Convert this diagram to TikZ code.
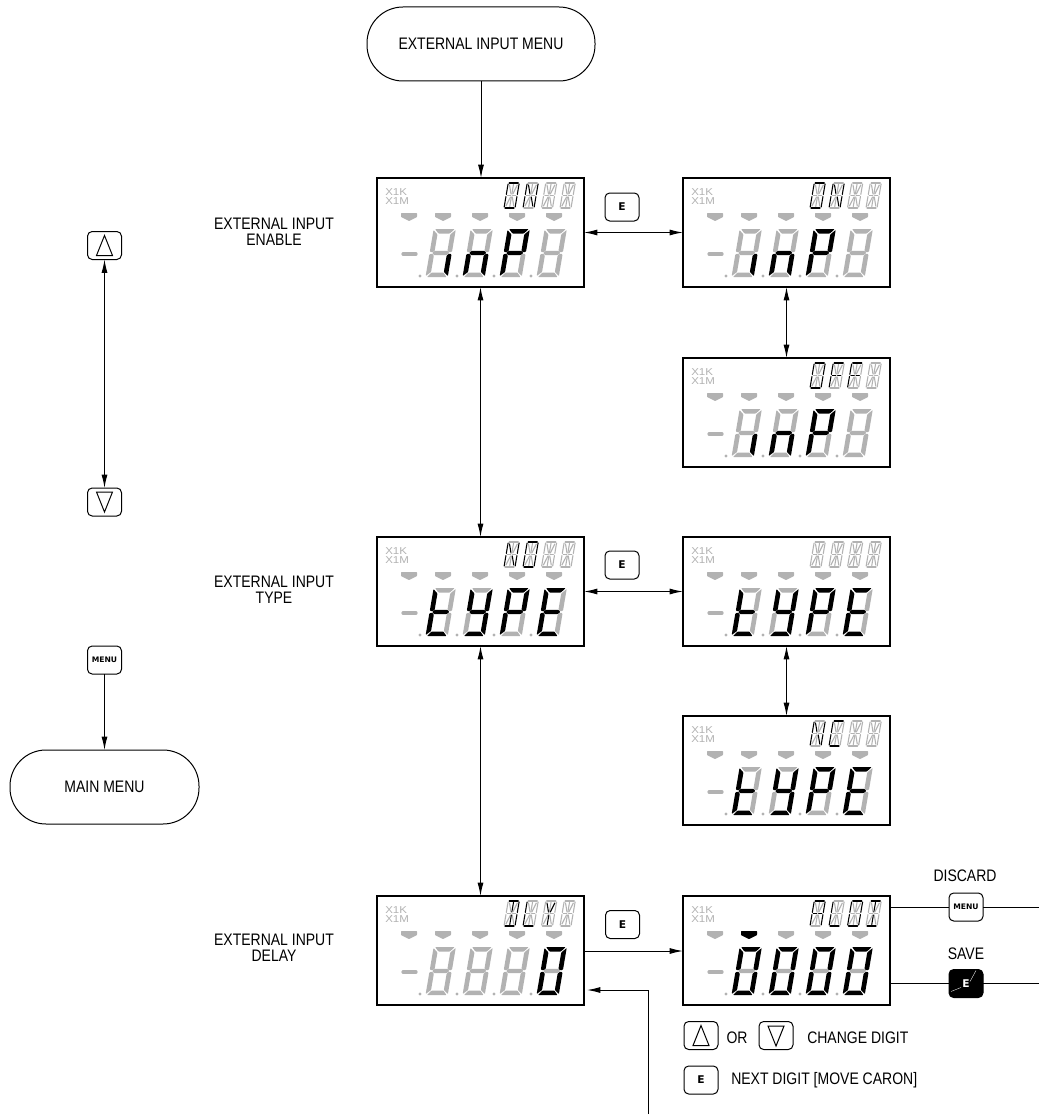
\documentclass[tikz,border=0pt]{standalone}
\usepackage{fontspec}
\setmainfont[FakeStretch=0.84]{Liberation Sans}
\newfontfamily\keyfont{DejaVu Sans}
\newfontfamily\lcdfont[FakeStretch=1.15]{Liberation Sans}
\usetikzlibrary{arrows.meta}
\definecolor{lcdoff}{gray}{0.70}
\makeatletter
\newcommand{\segcol}[2]{\edef\segtmp{\noexpand\in@{,#1,}{,#2,}}\segtmp\ifin@\def\segc{black}\else\def\segc{lcdoff}\fi}
% big seven-segment digit: #1 x offset, #2 list of lit segments
\newcommand{\bigdigit}[2]{%
 \begin{scope}[shift={(#1,99)},xslant=0.17,rounded corners=0.5pt]
 \segcol{a}{#2}\fill[\segc] (1.5,-48)--(21,-48)--(17,-43.5)--(5.5,-43.5)--cycle;
 \segcol{b}{#2}\fill[\segc] (22.2,-47)--(22.2,-25.5)--(20,-24.5)--(17.5,-26)--(17.5,-42.5)--cycle;
 \segcol{c}{#2}\fill[\segc] (22.2,-22.5)--(22.2,-1)--(17.5,-5)--(17.5,-21.5)--(20,-23.5)--cycle;
 \segcol{d}{#2}\fill[\segc] (5.5,-4.5)--(17,-4.5)--(21,0)--(1.5,0)--cycle;
 \segcol{e}{#2}\fill[\segc] (0,-22.5)--(2.2,-23.5)--(4.7,-21.5)--(4.7,-5)--(0,-1)--cycle;
 \segcol{f}{#2}\fill[\segc] (0,-47)--(4.7,-42.5)--(4.7,-26)--(2.2,-24.5)--(0,-25.5)--cycle;
 \segcol{g}{#2}\fill[\segc] (2.5,-24)--(5,-26.2)--(17.2,-26.2)--(19.8,-24)--(17.2,-21.8)--(5,-21.8)--cycle;
 \end{scope}}
% small fourteen-segment digit: #1 x offset, #2 list of lit segments
\newcommand{\smalldigit}[2]{%
 \begin{scope}[shift={(#1,30)},xslant=0.17,line width=0.8pt,line cap=round]
 \segcol{a}{#2}\draw[\segc] (1,-25)--(10,-25);
 \segcol{b}{#2}\draw[\segc] (11,-24)--(11,-13.5);
 \segcol{c}{#2}\draw[\segc] (11,-11.5)--(11,-1);
 \segcol{d}{#2}\draw[\segc] (1,0)--(10,0);
 \segcol{e}{#2}\draw[\segc] (0,-11.5)--(0,-1);
 \segcol{f}{#2}\draw[\segc] (0,-24)--(0,-13.5);
 \segcol{u}{#2}\draw[\segc] (1.2,-12.5)--(4.6,-12.5);
 \segcol{v}{#2}\draw[\segc] (6.4,-12.5)--(9.8,-12.5);
 \segcol{h}{#2}\draw[\segc] (1.6,-23)--(4.6,-14);
 \segcol{i}{#2}\draw[\segc] (5.5,-23.5)--(5.5,-14);
 \segcol{j}{#2}\draw[\segc] (9.4,-23)--(6.4,-14);
 \segcol{k}{#2}\draw[\segc] (4.6,-11)--(1.6,-2);
 \segcol{l}{#2}\draw[\segc] (5.5,-11)--(5.5,-1.5);
 \segcol{m}{#2}\draw[\segc] (6.4,-11)--(9.4,-2);
 \end{scope}}
\makeatother
\def\sO{a,b,c,d,e,f}
\def\sN{b,c,e,f,h,m}
\def\sF{a,e,f,u,v}
\def\sC{a,d,e,f}
\def\sI{a,d,i,l}
\def\sD{a,b,c,d,i,l}
\def\sY{h,j,l}
\def\sA{a,b,c,e,f,u,v}
\def\sL{d,e,f}
% LCD panel: #1 name, #2 x, #3 y, #4..#7 big digits
\newcommand{\lcdpanel}[8]{%
 \node[lcdbox,anchor=north west] (#1) at (#2,#3) {};
 \begin{scope}[shift={(#2,#3)}]
  \node[lcdlabel] (#1k) at (8,10) {X1K};
  \node[lcdlabel] (#1m) at (8,19.5) {X1M};
  \foreach \cx in {32,66,103,140,177}{\fill[lcdoff,rounded corners=0.4pt] (\cx-8,35)--(\cx+8,35)--(\cx+8,39)--(\cx,43)--(\cx-8,39)--cycle;}
  \foreach \dx in {43,80,117,154}{\fill[lcdoff] (\dx,98) circle (1.7);}
  \draw[lcdoff,line width=2.4pt,line cap=round] (26,76)--(39,76);
  \bigdigit{48.5}{#4}\bigdigit{85.5}{#5}\bigdigit{122.5}{#6}\bigdigit{159.5}{#7}
  #8
 \end{scope}}
\newcommand{\smallrow}[4]{\smalldigit{127}{#1}\smalldigit{146}{#2}\smalldigit{164.5}{#3}\smalldigit{183}{#4}}
\tikzset{
 lcdbox/.style={draw=black,line width=0.85pt,fill=white,minimum width=155.25pt,minimum height=81.75pt,inner sep=0pt,outer sep=0pt},
 lcdlabel/.style={anchor=north west,inner sep=0pt,text=lcdoff,font=\lcdfont\fontsize{7.5pt}{7.5pt}\selectfont},
 terminal/.style={draw=black,line width=0.75pt,rounded corners=27pt,inner sep=0pt,outer sep=0pt,font=\fontsize{12.5pt}{14pt}\selectfont},
 keybox/.style={draw=black,line width=0.75pt,rounded corners=3.5pt,minimum width=25.5pt,minimum height=21pt,inner sep=0pt,outer sep=0pt,fill=white},
 ekey/.style={keybox,font=\keyfont\bfseries\fontsize{8pt}{8pt}\selectfont},
 menukey/.style={keybox,font=\keyfont\bfseries\fontsize{5.7pt}{6pt}\selectfont},
 savekey/.style={keybox,fill=black,text=white,font=\keyfont\bfseries\fontsize{8pt}{8pt}\selectfont},
 lbl/.style={inner sep=0pt,align=center,font=\fontsize{12.5pt}{12pt}\selectfont},
 conn/.style={draw=black,line width=0.75pt},
 one/.style={conn,-{Latex[length=10pt,width=4.5pt]}},
 both/.style={conn,{Latex[length=10pt,width=4.5pt]}-{Latex[length=10pt,width=4.5pt]}},
}
\begin{document}
\begin{tikzpicture}[x=0.75pt,y=-0.75pt]
\useasboundingbox (0,0) rectangle (1039,1120);

\node[terminal,minimum width=171pt,minimum height=55.5pt] (top) at (481,44) {EXTERNAL INPUT MENU\hspace{9pt}};
\node[terminal,minimum width=141.75pt,minimum height=55.5pt] (main) at (104.5,787) {MAIN MENU\hspace{3pt}};

\lcdpanel{A}{377}{178}{c}{c,e,g}{a,b,e,f,g}{}{\smallrow{\sO}{\sN}{}{}}
\lcdpanel{B}{683}{178}{c}{c,e,g}{a,b,e,f,g}{}{\smallrow{\sO}{\sN}{}{}}
\lcdpanel{C}{683}{358}{c}{c,e,g}{a,b,e,f,g}{}{\smallrow{\sO}{\sF}{\sF}{}}
\lcdpanel{D}{377}{537}{d,e,f,g}{b,c,d,f,g}{a,b,e,f,g}{a,d,e,f,g}{\smallrow{\sN}{\sO}{}{}}
\lcdpanel{E}{683}{537}{d,e,f,g}{b,c,d,f,g}{a,b,e,f,g}{a,d,e,f,g}{\smallrow{}{}{}{}}
\lcdpanel{F}{683}{716}{d,e,f,g}{b,c,d,f,g}{a,b,e,f,g}{a,d,e,f,g}{\smallrow{\sN}{\sC}{}{}}
\lcdpanel{G}{377}{896}{}{}{}{a,b,c,d,e,f}{\smallrow{\sD}{\sL}{\sY}{}}
\lcdpanel{H}{683}{896}{a,b,c,d,e,f}{a,b,c,d,e,f}{a,b,c,d,e,f}{a,b,c,d,e,f}{\smallrow{\sA}{\sL}{\sO}{\sI}
  \fill[black,rounded corners=0.4pt] (58,35)--(74,35)--(74,39)--(66,43)--(58,39)--cycle;}

% keys
\node[ekey] (e1) at (622,207) {E};
\node[ekey] (e2) at (622,565) {E};
\node[ekey] (e3) at (622.5,924.5) {E};
\node[keybox] (up) at (104.5,245.5) {};
\draw[line width=0.75pt] (96.5,255.5)--(104.5,235.5)--(112.5,255.5)--cycle;
\node[keybox] (down) at (104.5,502) {};
\draw[line width=0.75pt] (96.5,492)--(104.5,512)--(112.5,492)--cycle;
\node[menukey] (m1) at (104.5,660) {MENU};
\node[menukey] (m2) at (966,907) {MENU};
\node[savekey] (s) at (966,983.5) {E};
\draw[white,line width=0.25pt] ([shift={(-15,8)}]s.center) -- ([shift={(-5,4)}]s.center);
\draw[white,line width=0.25pt] ([shift={(4,-2)}]s.center) -- ([shift={(10,-13)}]s.center);
\node[keybox] (up2) at (701,1035.5) {};
\draw[line width=0.75pt] (693,1045.5)--(701,1025.5)--(709,1045.5)--cycle;
\node[keybox] (down2) at (776,1035.5) {};
\draw[line width=0.75pt] (768,1026)--(776,1046)--(784,1026)--cycle;
\node[ekey] (e4) at (701,1080) {E};

% labels
\node[lbl] (l1) at (274,232) {EXTERNAL INPUT\\ENABLE};
\node[lbl] (l2) at (274,590) {EXTERNAL INPUT\\TYPE};
\node[lbl] (l3) at (274,948) {EXTERNAL INPUT\\DELAY};
\node[lbl] (l4) at (965,876) {DISCARD};
\node[lbl] (l5) at (966,954) {SAVE};
\node[lbl] (l6) at (737,1038) {OR};
\node[lbl,anchor=west] (l7) at (807,1038) {CHANGE DIGIT};
\node[lbl,anchor=west] (l8) at (731,1080) {NEXT DIGIT [MOVE CARON]};

% connectors
\draw[one] (top.south) -- (A.north -| top.south);
\draw[both] (A.south) -- (D.north);
\draw[both] (D.south) -- (G.north);
\draw[both] (A.east) -- (B.west);
\draw[both] (B.south) -- (C.north);
\draw[both] (D.east) -- (E.west);
\draw[both] (E.south) -- (F.north);
\draw[both] (up.south) -- (down.north);
\draw[one] (m1.south) -- (main.north -| m1.south);
\coordinate (gout) at (G.east |- 0,951);
\draw[one] (gout) -- (H.west |- gout);
\coordinate (ret) at (648,1114);
\coordinate (gin) at (587,990);
\draw[one] (ret) -- (ret |- gin) -- (gin);
\coordinate (dis) at (1039,906);
\coordinate (sav) at (1039,983);
\draw[conn] (H.east |- m2) -- (m2.west);
\draw[conn] (m2.east) -- (dis |- m2);
\draw[conn] (H.east |- s) -- (s.west);
\draw[conn] (s.east) -- (sav |- s);
\end{tikzpicture}
\end{document}
